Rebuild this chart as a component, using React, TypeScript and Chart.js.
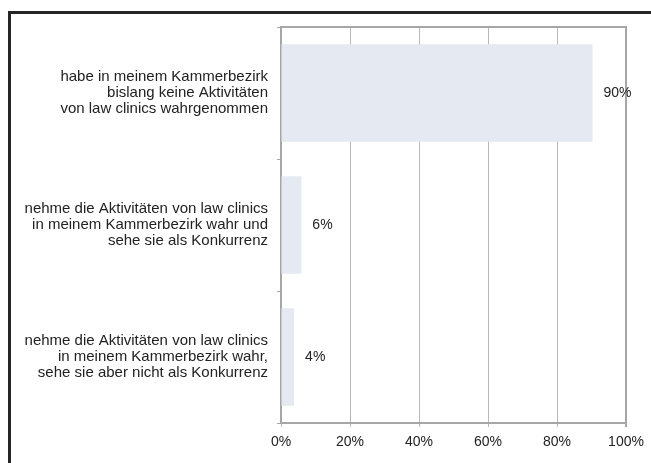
import React, { useEffect, useRef } from "react";
import { Chart, registerables } from "chart.js";

Chart.register(...registerables);

const categories: string[][] = [
  ["habe in meinem Kammerbezirk", "bislang keine Aktivitäten", "von law clinics wahrgenommen"],
  ["nehme die Aktivitäten von law clinics", "in meinem Kammerbezirk wahr und", "sehe sie als Konkurrenz"],
  ["nehme die Aktivitäten von law clinics", "in meinem Kammerbezirk wahr,", "sehe sie aber nicht als Konkurrenz"],
];
const values: number[] = [90.3, 5.9, 3.8];
const valueLabels: string[] = ["90%", "6%", "4%"];
const xTickValues: number[] = [0, 20, 40, 60, 80, 100];

const FONT = "'Liberation Sans', Arial, Helvetica, sans-serif";

const valueLabelPlugin = {
  id: "valueLabels",
  afterDatasetsDraw(chart: any) {
    const ctx = chart.ctx;
    const meta = chart.getDatasetMeta(0);
    ctx.save();
    ctx.font = `14px ${FONT}`;
    ctx.fillStyle = "#222222";
    ctx.textAlign = "left";
    ctx.textBaseline = "middle";
    meta.data.forEach((el: any, i: number) => {
      ctx.fillText(valueLabels[i], el.x + 11, el.y);
    });
    ctx.restore();
  },
};

const topBorderPlugin = {
  id: "topBorder",
  beforeDatasetsDraw(chart: any) {
    const { ctx, chartArea } = chart;
    ctx.save();
    ctx.strokeStyle = "#a6a6a6";
    ctx.lineWidth = 2;
    ctx.beginPath();
    ctx.moveTo(chartArea.left, chartArea.top);
    ctx.lineTo(chartArea.right + 1, chartArea.top);
    ctx.stroke();
    ctx.restore();
  },
};

export default function App() {
  const ref = useRef<HTMLCanvasElement | null>(null);

  useEffect(() => {
    if (!ref.current) return;
    const chart = new Chart(ref.current, {
      type: "bar",
      data: {
        labels: categories,
        datasets: [
          {
            data: values,
            backgroundColor: "#e5e9f2",
            borderWidth: 0,
            categoryPercentage: 1,
            barPercentage: 0.74,
          },
        ],
      },
      options: {
        indexAxis: "y",
        responsive: false,
        animation: false,
        layout: { padding: { top: 27, right: 25, left: 0, bottom: 0 } },
        plugins: {
          legend: { display: false },
          tooltip: { enabled: false },
        },
        scales: {
          x: {
            min: 0,
            max: 100,
            afterFit: (scale: any) => {
              scale.height = 40;
            },
            afterBuildTicks: (scale: any) => {
              scale.ticks = xTickValues.map((v) => ({ value: v }));
            },
            ticks: {
              callback: (v: any) => `${v}%`,
              font: { family: FONT, size: 14 },
              color: "#222222",
              padding: 7,
            },
            grid: {
              color: (c: any) => (c.index === xTickValues.length - 1 ? "#a6a6a6" : "#b8b8b8"),
              lineWidth: (c: any) => (c.index === xTickValues.length - 1 ? 2 : 1),
              tickLength: 4,
              drawTicks: true,
            },
            border: { display: true, color: "#a6a6a6", width: 2 },
          },
          y: {
            afterFit: (scale: any) => {
              scale.width = 281;
              scale.paddingTop = 0;
              scale.paddingBottom = 0;
            },
            ticks: {
              autoSkip: false,
              crossAlign: "near",
              font: { family: FONT, size: 15, lineHeight: 16 / 15 },
              color: "#222222",
              padding: 9,
            },
            grid: {
              drawOnChartArea: false,
              drawTicks: true,
              tickLength: 4,
              color: "#a6a6a6",
              lineWidth: 1,
              offset: true,
            },
            border: { display: true, color: "#a6a6a6", width: 2 },
          },
        },
      },
      plugins: [topBorderPlugin, valueLabelPlugin],
    });
    return () => chart.destroy();
  }, []);

  return (
    <>
      <div
        style={{
          position: "absolute",
          left: 8,
          top: 11,
          width: 643,
          height: 452,
          boxSizing: "border-box",
          borderLeft: "3px solid #262626",
          borderTop: "3px solid #262626",
        }}
      />
      <canvas
        ref={ref}
        width={651}
        height={463}
        style={{ position: "absolute", left: 0, top: 0, width: 651, height: 463, display: "block" }}
      />
    </>
  );
}
